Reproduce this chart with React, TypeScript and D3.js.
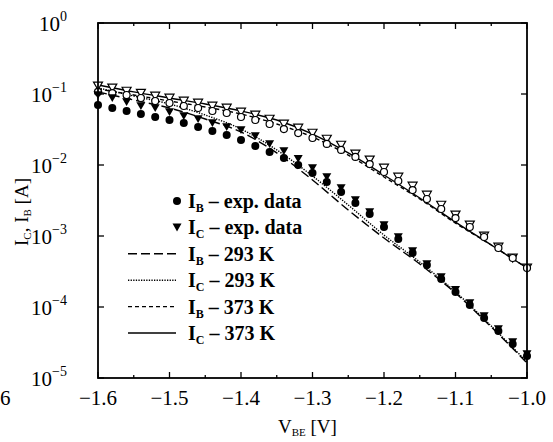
import React from "react";
import * as d3 from "d3";

// V_BE sample points of the measured data (every 20 mV)
const vData = d3.range(31).map((i) => -1.6 + 0.02 * i);
// measured currents [A]
const ib293 = [0.07, 0.0635, 0.0576, 0.0523, 0.0474, 0.043, 0.039, 0.0343, 0.0301, 0.0265, 0.0225, 0.0185, 0.0152, 0.0125, 0.01, 0.00772, 0.00576, 0.00417, 0.00292, 0.00204, 0.00134, 0.000907, 0.000576, 0.00039, 0.000248, 0.000163, 0.000107, 7.0e-5, 4.59e-5, 3.01e-5, 2.04e-5];
const ic293 = [0.0968, 0.0878, 0.0772, 0.0678, 0.0635, 0.0558, 0.049, 0.0444, 0.039, 0.0343, 0.0311, 0.0256, 0.0198, 0.0157, 0.0122, 0.00907, 0.00678, 0.00474, 0.00321, 0.00218, 0.00143, 0.000968, 0.000615, 0.000403, 0.000265, 0.000174, 0.000114, 7.47e-5, 4.9e-5, 3.21e-5, 2.18e-5];
const ib373 = [0.107, 0.103, 0.0968, 0.0878, 0.0797, 0.0747, 0.0678, 0.0635, 0.0576, 0.054, 0.0474, 0.043, 0.0378, 0.0321, 0.0282, 0.024, 0.0198, 0.0163, 0.013, 0.0103, 0.00797, 0.00595, 0.00444, 0.00332, 0.0024, 0.00179, 0.00134, 0.000968, 0.000678, 0.00049, 0.000354];
const ic373 = [0.13, 0.122, 0.11, 0.103, 0.0937, 0.0878, 0.0797, 0.0747, 0.0678, 0.0635, 0.0558, 0.0506, 0.0444, 0.0378, 0.0332, 0.0282, 0.0232, 0.0191, 0.0143, 0.0118, 0.00907, 0.00678, 0.00506, 0.00378, 0.00273, 0.00198, 0.00143, 0.001, 0.0007, 0.00049, 0.000354];

// simulated curves (every 50 mV)
const vSim = d3.range(13).map((i) => -1.6 + 0.05 * i);
const simIb293 = [0.107, 0.0823, 0.0635, 0.0444, 0.0292, 0.0148, 0.00615, 0.00232, 0.000937, 0.000403, 0.000157, 5.23e-5, 1.63e-5];
const simIc293 = [0.122, 0.0937, 0.0723, 0.0506, 0.0321, 0.0163, 0.007, 0.00273, 0.00103, 0.00043, 0.000163, 5.4e-5, 1.68e-5];
const simIb373 = [0.118, 0.0968, 0.0797, 0.0656, 0.0523, 0.0378, 0.0248, 0.0138, 0.00678, 0.00332, 0.00152, 0.000747, 0.000354];
const simIc373 = [0.134, 0.107, 0.0878, 0.0723, 0.0576, 0.043, 0.0273, 0.0148, 0.00723, 0.00343, 0.00157, 0.000747, 0.000354];

const xTicks = [-1.6, -1.5, -1.4, -1.3, -1.2, -1.1, -1.0];
const xMinor = [-1.55, -1.45, -1.35, -1.25, -1.15, -1.05];
const yExps = [0, -1, -2, -3, -4, -5];

const legendRows = [
  { sub: "B", text: " \u2013 exp. data", kind: "circle" },
  { sub: "C", text: " \u2013 exp. data", kind: "tri" },
  { sub: "B", text: " \u2013 293 K", kind: "long" },
  { sub: "C", text: " \u2013 293 K", kind: "dot" },
  { sub: "B", text: " \u2013 373 K", kind: "short" },
  { sub: "C", text: " \u2013 373 K", kind: "solid" },
];

const dashes: Record<string, string | undefined> = {
  long: "9,4",
  dot: "1.3,1.3",
  short: "4,3",
  solid: undefined,
};

const L = 98, R = 527, T = 23, B = 378;
const font = "'Liberation Serif', 'Times New Roman', serif";

const tri = "M-4.5,-3.8L4.5,-3.8L0,4Z";

export default function App() {
  const x = d3.scaleLinear().domain([-1.6, -1.0]).range([L, R]);
  const y = d3.scaleLog().domain([1e-5, 1]).range([B, T]);
  const line = (vals: number[]) =>
    d3
      .line<number>()
      .x((_, i) => x(vSim[i]))
      .y((d) => y(d))
      .curve(d3.curveMonotoneX)(vals) || "";

  const sims = [
    { vals: simIb293, kind: "long" },
    { vals: simIc293, kind: "dot" },
    { vals: simIb373, kind: "short" },
    { vals: simIc373, kind: "solid" },
  ];

  const fmt = (v: number) => (v < 0 ? "\u2212" : "") + Math.abs(v).toFixed(1);

  return (
    <svg width={553} height={442} style={{ position: "absolute", left: 0, top: 0, background: "#fff" }} fontFamily={font}>
      <defs>
        <clipPath id="plot">
          <rect x={L} y={T} width={R - L} height={B - T} />
        </clipPath>
      </defs>

      {/* simulated lines */}
      <g clipPath="url(#plot)" fill="none" stroke="#000" strokeWidth={1.4}>
        {sims.map((s, k) => (
          <path key={k} d={line(s.vals)} strokeDasharray={dashes[s.kind]} />
        ))}
      </g>

      {/* measured data */}
      <g>
        {vData.map((v, i) => (
          <g key={"o" + i}>
            <path d={tri} transform={`translate(${x(v)},${y(ic373[i])})`} fill="#fff" stroke="#000" strokeWidth={1.2} />
            <circle cx={x(v)} cy={y(ib373[i])} r={3.5} fill="#fff" stroke="#000" strokeWidth={1.2} />
            <path d={tri} transform={`translate(${x(v)},${y(ic293[i])})`} fill="#000" />
            <circle cx={x(v)} cy={y(ib293[i])} r={4} fill="#000" />
          </g>
        ))}
      </g>

      {/* frame */}
      <rect x={L} y={T} width={R - L} height={B - T} fill="none" stroke="#000" strokeWidth={1.8} />

      {/* ticks */}
      <g stroke="#000" strokeWidth={1.3}>
        {xTicks.map((t) => (
          <g key={t}>
            <line x1={x(t)} x2={x(t)} y1={B} y2={B - 6} />
            <line x1={x(t)} x2={x(t)} y1={T} y2={T + 6} />
          </g>
        ))}
        {xMinor.map((t) => (
          <g key={t}>
            <line x1={x(t)} x2={x(t)} y1={B} y2={B - 3} />
            <line x1={x(t)} x2={x(t)} y1={T} y2={T + 3} />
          </g>
        ))}
        {yExps.map((e) => (
          <g key={e}>
            <line x1={L} x2={L + 6} y1={y(Math.pow(10, e))} y2={y(Math.pow(10, e))} />
            <line x1={R} x2={R - 6} y1={y(Math.pow(10, e))} y2={y(Math.pow(10, e))} />
          </g>
        ))}
      </g>

      {/* x tick labels */}
      <g fontSize={21} textAnchor="middle" fill="#000">
        {xTicks.map((t) => (
          <text key={t} x={x(t)} y={405}>
            {fmt(t)}
          </text>
        ))}
      </g>
      <text x={0} y={405} fontSize={21}>6</text>

      {/* y tick labels */}
      <g fill="#000">
        {yExps.map((e) => (
          <text key={e} x={67} y={y(Math.pow(10, e)) + 8} fontSize={21} textAnchor="end">
            10
            <tspan dy={-10} fontSize={14}>
              {e === 0 ? "0" : "\u2212" + Math.abs(e)}
            </tspan>
          </text>
        ))}
      </g>

      {/* axis titles */}
      <text x={278} y={433} fontSize={19}>
        V<tspan fontSize={11} dy={3}>BE</tspan>
        <tspan dy={-3}> [V]</tspan>
      </text>
      <text transform="translate(28,246) rotate(-90)" fontSize={19}>
        I<tspan fontSize={11} dy={3}>C</tspan>
        <tspan dy={-3}>, I</tspan>
        <tspan fontSize={11} dy={3}>B</tspan>
        <tspan dy={-3}> [A]</tspan>
      </text>

      {/* legend */}
      <g fontWeight="bold" fontSize={20}>
        {legendRows.map((r, i) => {
          const cy = 201 + i * 26.4;
          return (
            <g key={i}>
              {r.kind === "circle" && <circle cx={177} cy={cy} r={4} fill="#000" />}
              {r.kind === "tri" && <path d={tri} transform={`translate(177,${cy})`} fill="#000" />}
              {r.kind !== "circle" && r.kind !== "tri" && (
                <line x1={128} x2={176} y1={cy} y2={cy} stroke="#000" strokeWidth={1.4} strokeDasharray={dashes[r.kind]} />
              )}
              <text x={188} y={cy + 7}>
                I<tspan fontSize={12} dy={4}>{r.sub}</tspan>
                <tspan dy={-4}>{r.text}</tspan>
              </text>
            </g>
          );
        })}
      </g>
    </svg>
  );
}
